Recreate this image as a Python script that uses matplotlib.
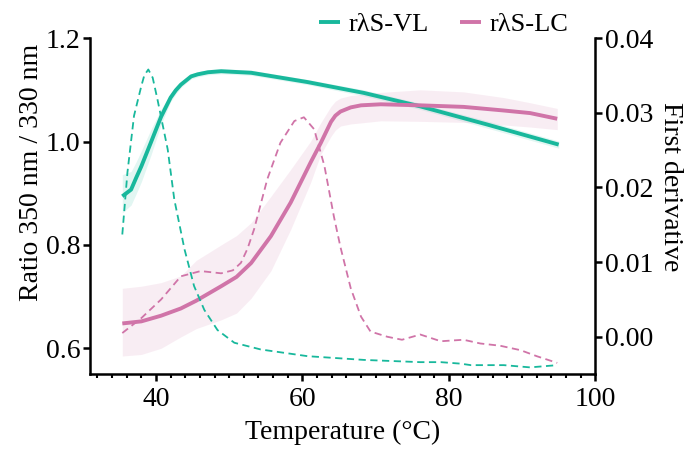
import numpy as np
import matplotlib.pyplot as plt
from matplotlib.ticker import MultipleLocator

plt.rcParams['font.family'] = ['Liberation Serif', 'DejaVu Serif']

TEAL = '#18b89c'
PINK = '#d074a8'

# rλS-VL: ratio 350/330 with confidence band
vl_temp = [35.4, 36.6, 37.3, 38.0, 39.3, 40.0, 40.7, 41.4, 42.0, 42.7, 43.4, 44.1, 44.8, 45.7, 47.1,
           48.9, 53.0, 60.7, 68.4, 76.1, 85.2, 95.0]
vl_ratio = [0.894, 0.907, 0.930, 0.952, 0.998, 1.023, 1.048, 1.068, 1.085, 1.099, 1.110, 1.118, 1.126,
            1.130, 1.134, 1.136, 1.133, 1.115, 1.094, 1.068, 1.033, 0.994]
vl_lo = [0.862, 0.877, 0.899, 0.922, 0.973, 1.003, 1.033, 1.057, 1.077, 1.092, 1.104, 1.113, 1.121,
         1.125, 1.129, 1.131, 1.128, 1.110, 1.088, 1.062, 1.026, 0.987]
vl_hi = [0.936, 0.942, 0.961, 0.982, 1.023, 1.043, 1.063, 1.079, 1.093, 1.106, 1.116, 1.123, 1.131,
         1.135, 1.139, 1.141, 1.138, 1.120, 1.100, 1.074, 1.040, 1.001]

# rλS-LC: ratio 350/330 with confidence band
lc_temp = [35.4, 38.0, 40.7, 43.4, 45.5, 48.9, 51.0, 53.0, 55.7, 58.4, 61.1, 62.5, 63.9, 64.5, 65.2,
           66.6, 68.0, 70.7, 76.1, 82.0, 87.5, 91.1, 94.8]
lc_ratio = [0.648, 0.652, 0.663, 0.677, 0.692, 0.720, 0.738, 0.765, 0.817, 0.882, 0.959, 0.997, 1.038,
            1.050, 1.058, 1.066, 1.070, 1.072, 1.070, 1.067, 1.060, 1.055, 1.044]
lc_lo = [0.585, 0.588, 0.600, 0.622, 0.638, 0.655, 0.668, 0.697, 0.750, 0.830, 0.920, 0.975, 1.010,
         1.022, 1.030, 1.034, 1.036, 1.040, 1.039, 1.037, 1.032, 1.028, 1.023]
lc_hi = [0.716, 0.720, 0.727, 0.740, 0.770, 0.800, 0.818, 0.843, 0.894, 0.946, 1.000, 1.036, 1.068,
         1.078, 1.084, 1.089, 1.091, 1.095, 1.100, 1.096, 1.085, 1.075, 1.064]

# first derivatives
vl_d_temp = [35.4, 36.1, 37.0, 38.0, 38.4, 38.95, 39.55, 40.2, 41.6, 42.5, 43.9, 45.2, 46.6, 48.4, 50.7,
             54.3, 60.7, 68.4, 76.1, 78.9, 81.6, 83.0, 87.5, 91.1, 94.8]
vl_deriv = [0.0137, 0.0220, 0.0296, 0.0336, 0.0350, 0.0358, 0.0347, 0.0318, 0.0251, 0.0184, 0.0117,
            0.0068, 0.0036, 0.0009, -0.0008, -0.0017, -0.0026, -0.0031, -0.0034, -0.0034, -0.0036,
            -0.0038, -0.0038, -0.0041, -0.0038]
lc_d_temp = [35.4, 38.0, 40.7, 43.4, 46.1, 48.9, 50.5, 51.6, 52.5, 53.4, 55.2, 57.0, 58.9, 60.2, 61.6,
             63.0, 64.3, 65.2, 66.6, 68.0, 69.3, 71.6, 73.6, 76.1, 78.9, 82.0, 84.3, 87.0, 89.8, 92.0, 94.8]
lc_deriv = [0.0005, 0.0025, 0.0050, 0.0081, 0.0088, 0.0085, 0.0089, 0.0099, 0.0118, 0.0144, 0.0211,
            0.0260, 0.0289, 0.0294, 0.0278, 0.0229, 0.0161, 0.0120, 0.0065, 0.0027, 0.0007, 0.0000,
            -0.0004, 0.0003, -0.0006, -0.0004, -0.0009, -0.0012, -0.0018, -0.0026, -0.0035]

fig = plt.figure(figsize=(6.93, 4.54), dpi=100)
ax = fig.add_axes([0.130, 0.176, 0.729, 0.740])
ax2 = ax.twinx()

ax.fill_between(vl_temp, vl_lo, vl_hi, color=TEAL, alpha=0.12, lw=0)
ax.fill_between(lc_temp, lc_lo, lc_hi, color=PINK, alpha=0.13, lw=0)
ax.plot(vl_temp, vl_ratio, color=TEAL, lw=2.8, solid_capstyle='butt', solid_joinstyle='round', label='rλS-VL')
ax.plot(lc_temp, lc_ratio, color=PINK, lw=2.8, solid_capstyle='butt', solid_joinstyle='round', label='rλS-LC')

ax2.plot(vl_d_temp, vl_deriv, color=TEAL, lw=1.3, dashes=(4, 2.5))
ax2.plot(lc_d_temp, lc_deriv, color=PINK, lw=1.3, dashes=(4, 2.5))

ax.set_xlim(31, 100)
ax.set_ylim(0.55, 1.2)
ax2.set_ylim(-0.005, 0.04)
ax.set_xticks([40, 60, 80, 100])
ax.xaxis.set_minor_locator(MultipleLocator(2))
ax.set_yticks([0.6, 0.8, 1.0, 1.2])
ax.set_yticklabels(['0.6', '0.8', '1.0', '1.2'])
ax2.set_yticks([0.00, 0.01, 0.02, 0.03, 0.04])
ax2.set_yticklabels(['0.00', '0.01', '0.02', '0.03', '0.04'])

for a in (ax, ax2):
    a.spines['top'].set_visible(False)
    for s in a.spines.values():
        s.set_linewidth(1.8)
ax.spines['right'].set_visible(False)
ax2.spines['left'].set_visible(False)
ax2.spines['bottom'].set_visible(False)

ax.tick_params(axis='both', which='major', direction='out', length=5, width=1.8, labelsize=20, pad=2)
ax.tick_params(axis='x', which='minor', direction='out', length=3, width=1.5)
ax.tick_params(axis='x', pad=4)
ax2.tick_params(axis='y', direction='out', length=5, width=1.8, labelsize=20, pad=2)

ax.set_xlabel('Temperature (°C)', fontsize=20, labelpad=6)
ax.set_ylabel('Ratio 350 nm / 330 nm', fontsize=20, labelpad=1)
ax2.set_ylabel('First derivative', fontsize=20, rotation=270, labelpad=21)
ax.yaxis.label.set_y(0.60)
ax2.yaxis.label.set_y(0.557)

ax.legend(loc='lower center', bbox_to_anchor=(0.70, 0.975), ncol=2, frameon=False, fontsize=19,
          handlelength=0.8, handletextpad=0.3, columnspacing=1.2, borderaxespad=0)

fig.savefig('out.png', dpi=100)
